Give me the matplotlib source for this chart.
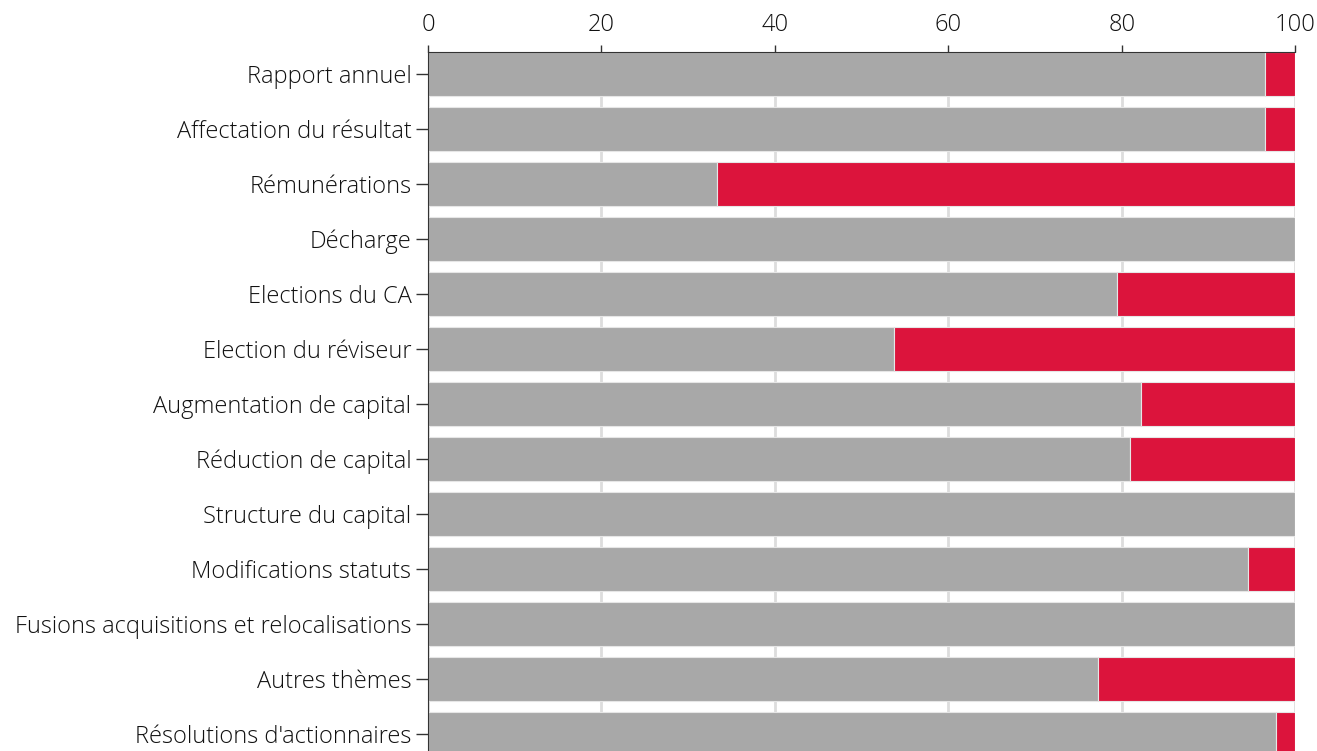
import numpy as np
import matplotlib.pyplot as plt

plt.rcParams['font.family'] = ['Open Sans', 'DejaVu Sans']
plt.rcParams['font.weight'] = 'light'

themes = ['Rapport annuel', 'Affectation du résultat', 'Rémunérations', 'Décharge',
          'Elections du CA', 'Election du réviseur', 'Augmentation de capital',
          'Réduction de capital', 'Structure du capital', 'Modifications statuts',
          'Fusions acquisitions et relocalisations', 'Autres thèmes',
          "Résolutions d'actionnaires"]
pour = [96.5, 96.5, 33.3, 100, 79.5, 53.7, 82.2, 80.9, 100, 94.5, 100, 77.2, 97.8]
contre = [100 - p for p in pour]

fig = plt.figure(figsize=(13.17, 7.51), dpi=100)
ax = fig.add_axes([0.325, 0.0, 0.6585, 0.9308])

y = np.arange(len(themes))
ax.barh(y, pour, height=0.8, color='#a8a8a8', edgecolor='#e6e6e6', linewidth=0.8, zorder=2)
ax.barh(y, contre, left=pour, height=0.8, color='#dc143c', edgecolor='#e6e6e6', linewidth=0.8, zorder=2)

ax.set_xlim(0, 100)
ax.set_ylim(12.31, -0.4)
ax.set_yticks(y)
ax.set_yticklabels(themes)
ax.set_xticks([0, 20, 40, 60, 80, 100])
ax.xaxis.tick_top()
ax.grid(axis='x', color='#dddddd', linewidth=2, zorder=0)
ax.tick_params(axis='both', labelsize=17, colors='#333333', labelcolor='#111111', width=1)
ax.tick_params(axis='x', length=5, pad=6)
ax.tick_params(axis='y', length=9, pad=3)
for s in ['right', 'bottom']:
    ax.spines[s].set_visible(False)
for s in ['left', 'top']:
    ax.spines[s].set_color('#333333')

fig.savefig('out.png', dpi=100)
